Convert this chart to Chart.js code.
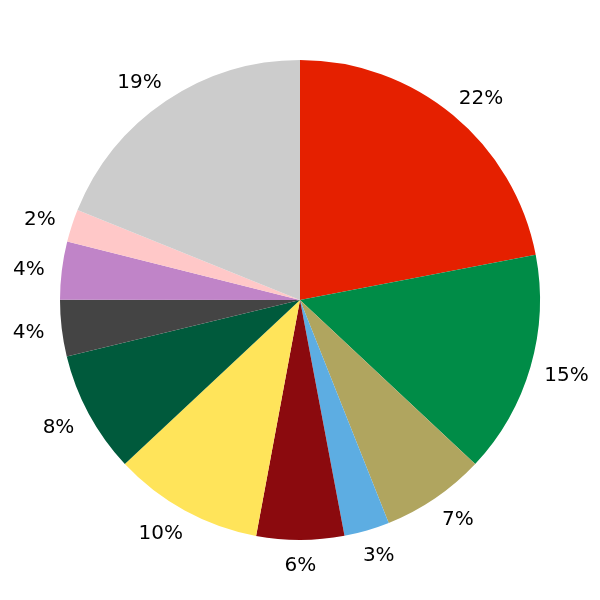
<!DOCTYPE html>
<html>
<head>
<meta charset="utf-8">
<script src="https://cdn.jsdelivr.net/npm/chart.js@4"></script>
<style>
html,body{margin:0;padding:0;background:#fff;}
#wrap{width:600px;height:600px;}
</style>
</head>
<body>
<div id="wrap"><canvas id="c" width="600" height="600"></canvas></div>
<script>
const categories = ["A","B","C","D","E","F","G","H","I","J","K"];
const values = [22.0, 15.0, 7.0, 3.06, 5.9, 10.1, 8.2, 3.8, 3.9, 2.2, 18.9];
const labels = ["22%","15%","7%","3%","6%","10%","8%","4%","4%","2%","19%"];
const colors = ["#e52000","#008c47","#b0a55f","#5dade2","#8b0a0e","#ffe45a","#005a3c","#444444","#c084c8","#ffc8c8","#cccccc"];

const labelPlugin = {
  id: 'outLabels',
  afterDatasetsDraw(chart) {
    const ctx = chart.ctx;
    const meta = chart.getDatasetMeta(0);
    ctx.save();
    ctx.font = '20px "DejaVu Sans"';
    ctx.fillStyle = '#000';
    ctx.textAlign = 'center';
    ctx.textBaseline = 'middle';
    meta.data.forEach((arc, i) => {
      const mid = (arc.startAngle + arc.endAngle) / 2;
      const r = arc.outerRadius * 1.1;
      const c = Math.cos(mid), s = Math.sin(mid);
      const hw = ctx.measureText(labels[i]).width / 2;
      const off = Math.sign(c) * 0.58 * hw * Math.min(1, Math.abs(c) * 2);
      const x = arc.x + c * r + off;
      const y = arc.y + s * r + 2;
      ctx.fillText(labels[i], x, y);
    });
    ctx.restore();
  }
};

new Chart(document.getElementById('c'), {
  type: 'pie',
  data: {
    labels: categories,
    datasets: [{ data: values, backgroundColor: colors, borderWidth: 0 }]
  },
  options: {
    responsive: false,
    animation: false,
    layout: { padding: 60 },
    plugins: { legend: { display: false }, tooltip: { enabled: false } }
  },
  plugins: [labelPlugin]
});
</script>
</body>
</html>
